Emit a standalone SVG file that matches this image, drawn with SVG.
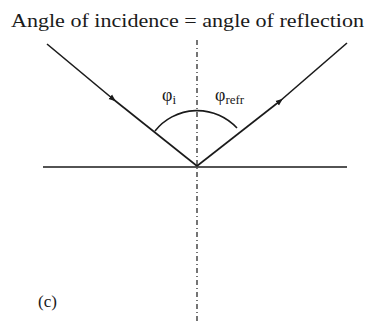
<svg xmlns="http://www.w3.org/2000/svg" width="371" height="324" viewBox="0 0 371 324">
<style>
.ln{stroke:#1a1a1a;stroke-width:1.6;fill:none}
.dash{stroke:#1a1a1a;stroke-width:1.2;stroke-dasharray:5,3,1,3;fill:none}
.t{font-family:"Liberation Serif",serif;fill:#1a1a1a}
</style>
<defs>
<marker id="ah" viewBox="0 0 10 10" refX="5" refY="5" markerWidth="4.5" markerHeight="4.5" orient="auto">
<path d="M0,1 L10,5 L0,9 Z" fill="#1a1a1a"/>
</marker>
</defs>
<rect width="371" height="324" fill="#fff"/>
<text class="t" x="11" y="27" font-size="18" textLength="353" lengthAdjust="spacingAndGlyphs">Angle of incidence = angle of reflection</text>
<g id="connectors">
<line class="dash" x1="197" y1="40" x2="197" y2="324"/>
<line class="ln" x1="43" y1="167" x2="347" y2="167"/>
<path class="ln" d="M47,44 L113,99" marker-end="url(#ah)"/>
<line class="ln" x1="113" y1="99" x2="197" y2="166"/>
<path class="ln" d="M197,166 L280,101" marker-end="url(#ah)"/>
<line class="ln" x1="280" y1="101" x2="347" y2="43"/>
<path class="ln" d="M155,131 A54,54 0 0 1 237,128"/>
</g>
<g id="labels">
<text class="t" x="162" y="101" font-size="18">φ<tspan font-size="13" dy="3">i</tspan></text>
<text class="t" x="215" y="101" font-size="18">φ<tspan font-size="13" dy="3">refr</tspan></text>
<text class="t" x="38" y="307" font-size="17">(c)</text>
</g>
</svg>
